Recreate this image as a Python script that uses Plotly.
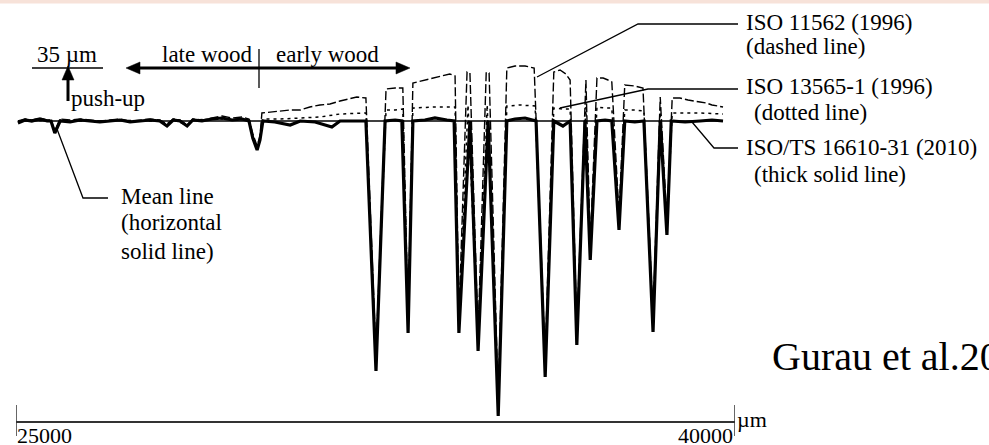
import plotly.graph_objects as go

# ---------------- data (µm) ----------------
# ISO/TS 16610-31 (2010) thick solid line
solid_x = [25040, 25190, 25330, 25500, 25650, 25730, 25810, 25920, 26130, 26340,
           26540, 26750, 26960, 27170, 27380, 27590, 27800, 28000, 28150, 28280,
           28420, 28570, 28690, 28880, 29090, 29300, 29510, 29720, 29860, 29940,
           30030, 30090, 30150, 30400, 30720, 30930, 31240, 31590, 31760, 32070,
           32300, 32510, 32700, 32910, 33050, 33180, 33280, 33530, 33740, 33990,
           34140, 34240, 34470, 34640, 34850, 35060, 35240, 35410, 35620, 35850,
           36040, 36220, 36410, 36560, 36700, 36870, 36980, 37120, 37290, 37430,
           37580, 37700, 37910, 38100, 38290, 38440, 38580, 38670, 38960, 39270,
           39520, 39750]
solid_y = [-2, 1, 0, 2, 0, 0, -12, 0, -1, 1,
           0, -1, 0, 1, -1, 0, 1, 0, -5, 1,
           0, -5, 1, 0, 2, 3, 1, 2, 0, -17,
           -29, -19, 0, -1, -4, 0, -1, -6, 0, 0,
           0, -250, 0, 1, 0, -212, 0, 1, 3, 1,
           0, -212, 0, -230, 0, -295, 0, 2, 3, 0,
           -256, 0, -5, 0, -224, 0, -139, 0, 1, 0,
           -109, 0, -1, 0, -211, 0, -114, 0, -1, 0,
           1, 0]

# ISO 11562 (1996) dashed line
dashed_x = [25040, 25190, 25330, 25500, 25650, 25730, 25810, 25920, 26130, 26340,
            26540, 26750, 26960, 27170, 27380, 27590, 27800, 28000, 28150, 28280,
            28420, 28570, 28690, 28880, 29090, 29300, 29510, 29720, 29860, 29940,
            30030, 30090, 30130, 30300, 30510, 30720, 30930, 31130, 31340, 31550,
            31760, 31970, 32110, 32300, 32510, 32720, 32910, 33070, 33180, 33280,
            33530, 33850, 34050, 34160, 34240, 34410, 34470, 34640, 34810, 34870,
            35060, 35240, 35410, 35620, 35810, 36040, 36220, 36350, 36470, 36560,
            36700, 36890, 36980, 37120, 37250, 37350, 37430, 37580, 37700, 37910,
            38080, 38290, 38440, 38580, 38690, 38850, 39020, 39270, 39400, 39520,
            39750]
dashed_y = [0, 2, 1, 3, 1, 1, -10, 2, 1, 2,
            1, 0, 1, 2, 0, 1, 2, 1, -3, 2,
            1, -4, 2, 1, 3, 5, 3, 4, 2, -13,
            -25, -15, 8, 9, 10, 11, 11, 14, 16, 17,
            20, 22, 24, 23, -234, 32, 33, 33, -199, 38,
            41, 45, 47, 45, -197, 49, 48, -214, 49, 48,
            -279, 53, 55, 55, 53, -239, 49, 51, 47, 41,
            -209, 41, -124, 43, 43, 41, 39, -94, 36, 35,
            33, -197, 24, -101, 23, 23, 21, 19, 18, 16,
            14]

# ISO 13565-1 (1996) dotted line
dotted_x = [25040, 25330, 25650, 25730, 25810, 25920, 26340, 26750, 27170, 27590,
            28000, 28150, 28280, 28570, 28690, 29090, 29510, 29860, 29940, 30030,
            30090, 30150, 30510, 30930, 31340, 31760, 32070, 32300, 32510, 32720,
            32910, 33070, 33180, 33280, 33740, 34160, 34240, 34430, 34640, 34830,
            35060, 35240, 35510, 35830, 36040, 36220, 36410, 36560, 36700, 36890,
            36980, 37120, 37290, 37430, 37580, 37700, 37910, 38100, 38290, 38440,
            38580, 38690, 39270, 39750]
dotted_y = [-1, 1, 0, 0, -11, 1, 0, 0, 1, 0,
            0, -4, 1, -4, 1, 2, 2, 1, -15, -27,
            -17, 2, 2, 3, 4, 7, 8, 8, -241, 11,
            11, 12, -204, 13, 14, 14, -204, 16, -222, 16,
            -287, 15, 16, 15, -248, 13, 12, 12, -216, 14,
            -131, 14, 13, 13, -101, 11, 11, 10, -204, 9,
            -107, 8, 8, 7]

mean_y = [0, 0]

tick_vals = [25000, 40000]
tick_text = ["25000", "40000"]
x_unit = "µm"

# ---------------- figure ----------------
W, H = 989, 445
FONT = "Liberation Serif"


def fx(x):
    return x / W


def fy(y):
    return 1 - y / H


fig = go.Figure()
fig.add_trace(go.Scatter(x=[solid_x[0], solid_x[-1]], y=mean_y, mode="lines",
                         line=dict(color="black", width=1.3), hoverinfo="skip"))
fig.add_trace(go.Scatter(x=dashed_x, y=dashed_y, mode="lines",
                         line=dict(color="black", width=1.4, dash="9px,3px"), hoverinfo="skip"))
fig.add_trace(go.Scatter(x=dotted_x, y=dotted_y, mode="lines",
                         line=dict(color="black", width=1.5, dash="3px,4px"), hoverinfo="skip"))
fig.add_trace(go.Scatter(x=solid_x, y=solid_y, mode="lines",
                         line=dict(color="black", width=3.2), hoverinfo="skip"))

shapes = []
# top pink band
shapes.append(dict(type="rect", xref="paper", yref="paper", x0=0, x1=1, y0=fy(3.5), y1=1,
                   fillcolor="#f7e2d9", line=dict(width=0), layer="below"))


def seg(pts, width=1.3):
    path = "M " + " L ".join(f"{fx(a):.5f},{fy(b):.5f}" for a, b in pts)
    return dict(type="path", xref="paper", yref="paper", path=path,
                line=dict(color="black", width=width))


def tri(pts):
    path = "M " + " L ".join(f"{fx(a):.5f},{fy(b):.5f}" for a, b in pts) + " Z"
    return dict(type="path", xref="paper", yref="paper", path=path,
                fillcolor="black", line=dict(color="black", width=0.5))


# 35 µm bar and push-up arrow
shapes.append(seg([(32, 68), (103, 68)], 1.3))
shapes.append(seg([(68, 101), (68, 78)], 3))
shapes.append(tri([(68, 66), (62, 80), (74, 80)]))
# late/early wood double arrow + divider
shapes.append(seg([(138, 68), (398, 68)], 3))
shapes.append(tri([(126, 68), (140, 62), (140, 74)]))
shapes.append(tri([(410, 68), (396, 62), (396, 74)]))
shapes.append(seg([(259, 49), (259, 88)], 1.3))
# leader lines
shapes.append(seg([(537, 77), (638, 24), (738, 24)], 1.3))
shapes.append(seg([(560, 108), (648, 89), (738, 89)], 1.3))
shapes.append(seg([(692, 122), (714, 148), (738, 148)], 1.3))
shapes.append(seg([(57, 129), (83, 198), (108, 198)], 1.3))
# axis ticks
for tv in tick_vals:
    shapes.append(dict(type="line", xref="x", yref="paper", x0=tv, x1=tv,
                       y0=fy(436), y1=fy(405), line=dict(color="#333", width=1.5)))

ann = []


def txt(s, x, y, size=23, anchor="left"):
    ann.append(dict(text=s, x=fx(x), y=fy(y), xref="paper", yref="paper",
                    xanchor=anchor, yanchor="middle", showarrow=False, borderpad=0,
                    font=dict(family=FONT, size=size, color="black")))


txt("35 µm", 36, 55)
txt("late wood", 161, 55)
txt("early wood", 275, 55)
txt("push-up", 70, 98)
txt("ISO 11562 (1996)", 745, 23)
txt("(dashed line)", 745, 46)
txt("ISO 13565-1 (1996)", 745, 86)
txt("(dotted line)", 753, 112)
txt("ISO/TS 16610-31 (2010)", 745, 147)
txt("(thick solid line)", 753, 174)
txt("Mean line", 120, 197)
txt("(horizontal", 120, 222)
txt("solid line)", 120, 251)
txt("Gurau et al.20", 771, 356, size=40)

# axis tick labels
ann.append(dict(text=tick_text[0], x=tick_vals[0], y=fy(435), xref="x", yref="paper",
                xanchor="left", yanchor="middle", showarrow=False, borderpad=0,
                font=dict(family=FONT, size=22, color="black")))
ann.append(dict(text=tick_text[1], x=tick_vals[1], y=fy(435), xref="x", yref="paper",
                xanchor="right", yanchor="middle", showarrow=False, borderpad=0, xshift=-1,
                font=dict(family=FONT, size=22, color="black")))
ann.append(dict(text=x_unit, x=tick_vals[1], y=fy(419), xref="x", yref="paper",
                xanchor="left", yanchor="middle", showarrow=False, borderpad=0, xshift=1,
                font=dict(family=FONT, size=22, color="black")))

fig.update_layout(
    width=W, height=H, margin=dict(l=0, r=0, t=0, b=0),
    paper_bgcolor="white", plot_bgcolor="white", showlegend=False,
    shapes=shapes, annotations=ann,
    xaxis=dict(domain=[16 / W, 735 / W], range=[25000, 40000], showgrid=False,
               zeroline=False, showticklabels=False, ticks="", showline=True,
               linecolor="#333", linewidth=1.5, anchor="free", position=fy(422)),
    yaxis=dict(domain=[0, 1], range=[-324, 121], visible=False),
)

fig.write_html("out.html", config={"displayModeBar": False},
               post_script="document.body.style.margin='0';document.body.style.overflow='hidden';")
